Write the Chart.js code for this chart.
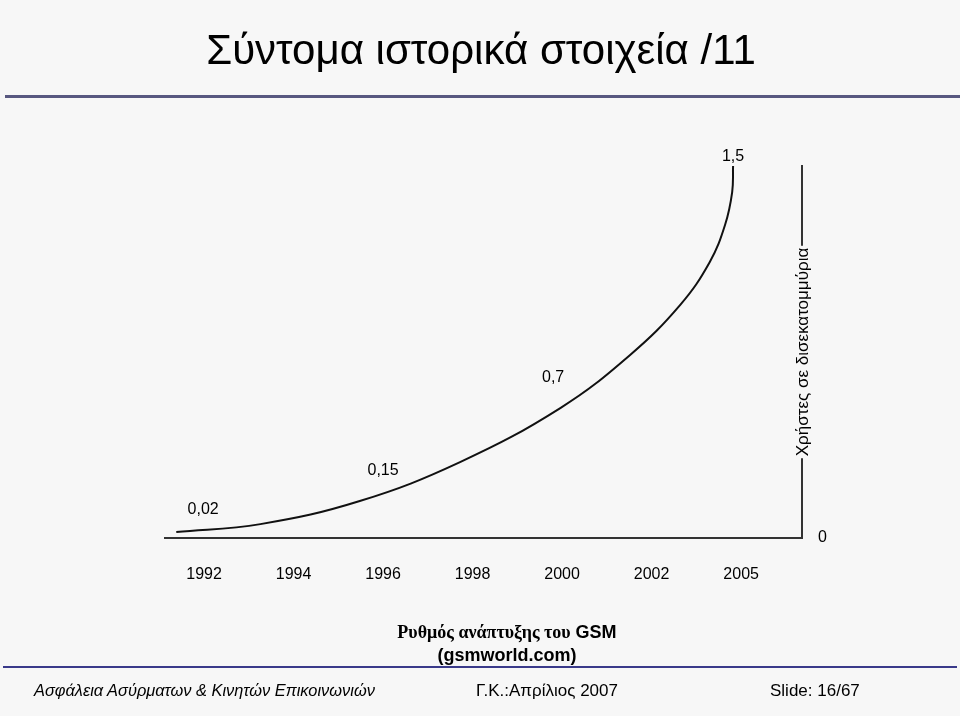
<!DOCTYPE html>
<html>
<head>
<meta charset="utf-8">
<script src="https://cdn.jsdelivr.net/npm/chart.js@4.4.1/dist/chart.umd.min.js"></script>
<style>
    body { margin: 0; background: #f7f7f7; }
    #slide { position: relative; width: 960px; height: 716px; overflow: hidden; background: #f7f7f7; font-family: 'Liberation Sans', Arial, sans-serif; }
    #chart { position: absolute; left: 0; top: 0; }
    .title { position: absolute; left: 0; width: 962px; top: 26px; text-align: center; font-size: 42px; color: #000; }
    .title-line { position: absolute; left: 5px; right: 0; top: 95px; height: 3px; background: #585880; }
    .caption { position: absolute; left: 307px; width: 400px; top: 621px; text-align: center; font-size: 18px; font-weight: bold; line-height: 23px; }
    .caption .serif { font-family: 'Liberation Serif', 'Times New Roman', serif; }
    .bottom-line { position: absolute; left: 3px; width: 954px; top: 666px; height: 2px; background: #3a3a8a; }
    .footer { position: absolute; top: 681px; font-size: 17px; }
</style>
</head>
<body>
<div id="slide">
    <canvas id="chart" width="960" height="716"></canvas>
    <div class="title">Σύντομα ιστορικά στοιχεία /11</div>
    <div class="title-line"></div>
    <div class="caption"><span class="serif">Ρυθμός ανάπτυξης του</span> GSM<br>(gsmworld.com)</div>
    <div class="bottom-line"></div>
    <div class="footer" style="left:34px;font-style:italic;font-size:16.4px;">Ασφάλεια Ασύρματων &amp; Κινητών Επικοινωνιών</div>
    <div class="footer" style="left:476px;">Γ.Κ.:Απρίλιος 2007</div>
    <div class="footer" style="left:770px;">Slide: 16/67</div>
</div>
<script>
// Data
const years = ['1992', '1994', '1996', '1998', '2000', '2002', '2005'];
// curve (x = position between year labels, y = users in billions)
const curveX = [-0.31, 0.63, 1.74, 2.86, 3.98, 4.76, 5.32, 5.65, 5.82, 5.90, 5.91];
const curveY = [0.024, 0.056, 0.149, 0.306, 0.524, 0.738, 0.94, 1.113, 1.262, 1.395, 1.5];
const valueLabels = ['0,02', '0,15', '0,7', '1,5'];
const axisTitle = 'Χρήστες σε δισεκατομμύρια';

const points = curveX.map((x, i) => ({ x: x, y: curveY[i] }));

// where the value labels sit, in data units
const labelAnchors = [
    { x: -0.01, y: 0.113 },
    { x: 2.0, y: 0.27 },
    { x: 3.9, y: 0.645 },
    { x: 5.91, y: 1.536 }
];

// Value labels + rotated axis title on top of the vertical line
const slidePlugin = {
    id: 'slideText',
    afterDraw(chart) {
        const ctx = chart.ctx;
        const xs = chart.scales.x;
        const ys = chart.scales.y;
        ctx.save();
        ctx.font = '16px "Liberation Sans", Arial, sans-serif';
        ctx.fillStyle = '#000';
        ctx.textAlign = 'center';
        ctx.textBaseline = 'middle';
        valueLabels.forEach((txt, i) => {
            ctx.fillText(txt, xs.getPixelForValue(labelAnchors[i].x), ys.getPixelForValue(labelAnchors[i].y));
        });

        // axis title sits on the line, with the background behind it
        ctx.font = '17px "Liberation Sans", Arial, sans-serif';
        const lx = chart.chartArea.right;
        const ly = 352;
        ctx.translate(lx, ly);
        ctx.rotate(-Math.PI / 2);
        const w = ctx.measureText(axisTitle).width;
        ctx.fillStyle = '#f7f7f7';
        ctx.fillRect(-w / 2 - 2, -11, w + 4, 22);
        ctx.fillStyle = '#000';
        ctx.fillText(axisTitle, 0, 1);
        ctx.restore();
    }
};

const chart = new Chart(document.getElementById('chart'), {
    type: 'line',
    data: {
        datasets: [{
            data: points,
            borderColor: '#111',
            borderWidth: 2,
            pointRadius: 0,
            fill: false,
            tension: 0.4
        }]
    },
    options: {
        responsive: false,
        animation: false,
        layout: { padding: { left: 165, top: 166, right: 118, bottom: 128 } },
        plugins: { legend: { display: false }, tooltip: { enabled: false } },
        scales: {
            x: {
                type: 'linear',
                min: -0.436,
                max: 6.68,
                grid: { display: false, drawTicks: false },
                border: { display: true, color: '#333', width: 2 },
                afterBuildTicks: scale => { scale.ticks = years.map((_, i) => ({ value: i })); },
                afterFit: scale => { scale.height = 50; },
                ticks: {
                    autoSkip: false,
                    maxRotation: 0,
                    padding: 27,
                    color: '#000',
                    font: { family: '"Liberation Sans", Arial, sans-serif', size: 16 },
                    callback: value => years[value]
                }
            },
            y: {
                position: 'right',
                min: 0,
                max: 1.5,
                grid: { display: false, drawTicks: false },
                border: { display: true, color: '#333', width: 2 },
                afterBuildTicks: scale => { scale.ticks = [{ value: 0 }]; },
                afterFit: scale => { scale.width = 40; },
                ticks: {
                    padding: 16,
                    color: '#000',
                    font: { family: '"Liberation Sans", Arial, sans-serif', size: 16 },
                    callback: value => String(value)
                }
            }
        }
    },
    plugins: [slidePlugin]
});
</script>
</body>
</html>
